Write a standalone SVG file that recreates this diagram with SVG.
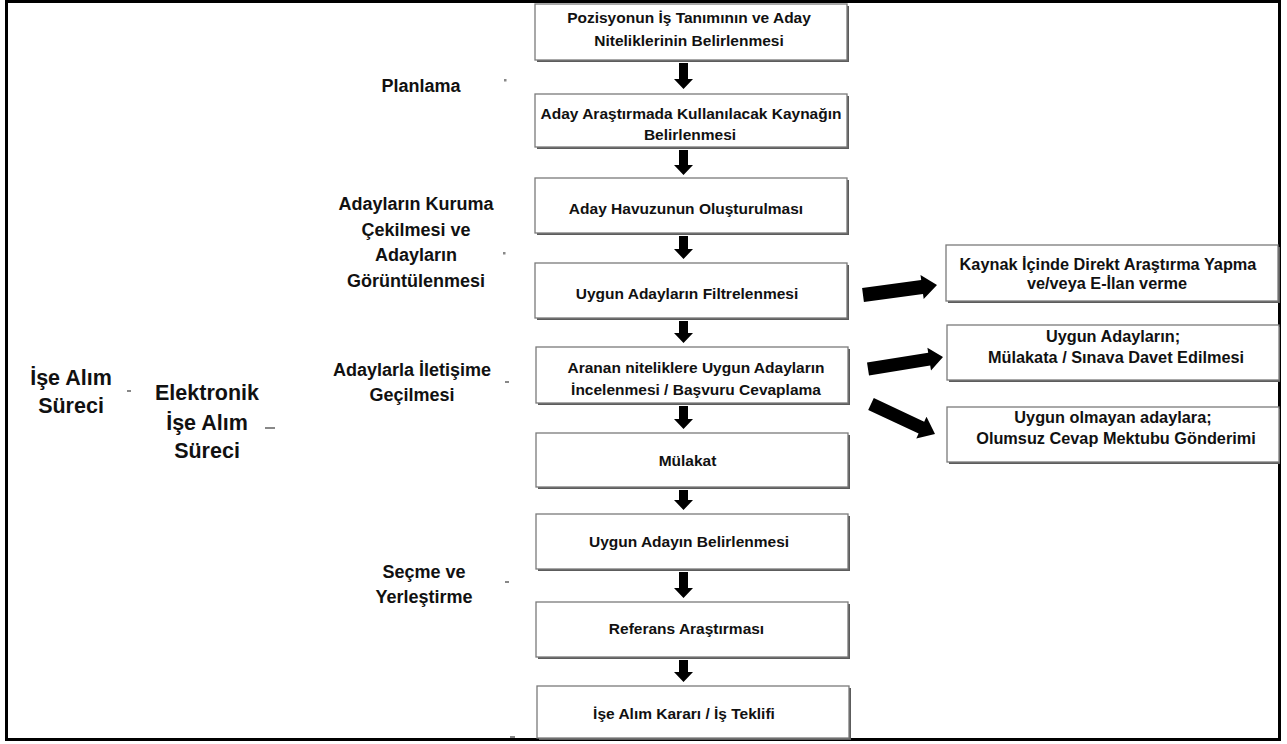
<svg xmlns="http://www.w3.org/2000/svg" width="1287" height="744" viewBox="0 0 1287 744">
<style>
.box{fill:#fff;stroke:#7a7a7a;stroke-width:1.3}
.sh{fill:#5c5c5c}
.t{font-family:"Liberation Sans",Arial,sans-serif;font-weight:bold;font-size:15.5px;text-anchor:middle;fill:#111}
.r{font-size:16.3px}
.l{font-size:18px}
.b{font-size:21.5px}
.arr{fill:#000}
.mk{fill:#888}
</style>
<rect width="1287" height="744" fill="#fff"/>
<rect x="6.5" y="1.5" width="1273" height="738" fill="none" stroke="#000" stroke-width="3"/>

<g id="n1"><rect class="sh" x="537" y="6" width="312" height="56"/><rect class="box" x="535" y="4" width="312" height="56"/>
<text class="t" x="689" y="23">Pozisyonun İş Tanımının ve Aday</text><text class="t" x="689" y="45.5">Niteliklerinin Belirlenmesi</text></g>
<g id="n2"><rect class="sh" x="537" y="96" width="312" height="53"/><rect class="box" x="535" y="94" width="312" height="53"/>
<text class="t" x="691" y="119">Aday Araştırmada Kullanılacak Kaynağın</text><text class="t" x="690" y="139.5">Belirlenmesi</text></g>
<g id="n3"><rect class="sh" x="537" y="180" width="312" height="55"/><rect class="box" x="535" y="178" width="312" height="55"/>
<text class="t" x="686" y="214">Aday Havuzunun Oluşturulması</text></g>
<g id="n4"><rect class="sh" x="537" y="265" width="312" height="55"/><rect class="box" x="535" y="263" width="312" height="55"/>
<text class="t" x="687" y="298.5">Uygun Adayların Filtrelenmesi</text></g>
<g id="n5"><rect class="sh" x="538" y="349" width="312" height="56"/><rect class="box" x="536" y="347" width="312" height="56"/>
<text class="t" x="696" y="373">Aranan niteliklere Uygun Adayların</text><text class="t" x="696" y="395">İncelenmesi / Başvuru Cevaplama</text></g>
<g id="n6"><rect class="sh" x="538" y="435" width="312" height="54"/><rect class="box" x="536" y="433" width="312" height="54"/>
<text class="t" x="687.5" y="466">Mülakat</text></g>
<g id="n7"><rect class="sh" x="538" y="516" width="312" height="55"/><rect class="box" x="536" y="514" width="312" height="55"/>
<text class="t" x="689" y="547">Uygun Adayın Belirlenmesi</text></g>
<g id="n8"><rect class="sh" x="538" y="604" width="312" height="55"/><rect class="box" x="536" y="602" width="312" height="55"/>
<text class="t" x="686.5" y="634">Referans Araştırması</text></g>
<g id="n9"><rect class="sh" x="539" y="688" width="312" height="52"/><rect class="box" x="537" y="686" width="312" height="52"/>
<text class="t" x="684" y="719">İşe Alım Kararı / İş Teklifi</text></g>

<g id="r1"><rect class="sh" x="948" y="247" width="332" height="56"/><rect class="box" x="946" y="245" width="332" height="56"/>
<text class="t r" x="1108" y="269.5">Kaynak İçinde Direkt Araştırma Yapma</text><text class="t r" x="1107" y="288.5">ve/veya E-İlan verme</text></g>
<g id="r2"><rect class="sh" x="949" y="327" width="331" height="55"/><rect class="box" x="947" y="325" width="332" height="55"/>
<text class="t r" x="1113" y="341.5">Uygun Adayların;</text><text class="t r" x="1116" y="362.5">Mülakata / Sınava Davet Edilmesi</text></g>
<g id="r3"><rect class="sh" x="949" y="409" width="331" height="55"/><rect class="box" x="947" y="407" width="332" height="55"/>
<text class="t r" x="1113" y="423">Uygun olmayan adaylara;</text><text class="t r" x="1116" y="444">Olumsuz Cevap Mektubu Gönderimi</text></g>

<g id="labels">
<text class="t l" x="421" y="92">Planlama</text>
<text class="t l" x="416" y="210">Adayların Kuruma</text>
<text class="t l" x="416" y="236">Çekilmesi ve</text>
<text class="t l" x="416" y="261">Adayların</text>
<text class="t l" x="416" y="286.5">Görüntülenmesi</text>
<text class="t l" x="412" y="376">Adaylarla İletişime</text>
<text class="t l" x="412" y="401">Geçilmesi</text>
<text class="t l" x="424" y="578">Seçme ve</text>
<text class="t l" x="424" y="603">Yerleştirme</text>
<text class="t b" x="71" y="384.5">İşe Alım</text>
<text class="t b" x="71" y="412.5">Süreci</text>
<text class="t b" x="207" y="399.5">Elektronik</text>
<text class="t b" x="207" y="429.5">İşe Alım</text>
<text class="t b" x="207" y="457.5">Süreci</text>
</g>

<g id="marks">
<rect class="mk" x="504" y="79" width="2.5" height="2.5"/>
<rect class="mk" x="503" y="252" width="2.5" height="2.5"/>
<rect class="mk" x="505" y="381" width="4" height="2"/>
<rect class="mk" x="127" y="390" width="4" height="2"/>
<rect class="mk" x="265" y="427" width="10" height="2"/>
<rect class="mk" x="505" y="581" width="4" height="2"/>
<rect class="mk" x="510" y="736" width="5" height="2"/>
</g>

<g id="connectors">
<polygon class="arr" points="679,63 688,63 688,79 693,79 683.5,89 674,79 679,79"/>
<polygon class="arr" points="679,150 688,150 688,165 693,165 683.5,175 674,165 679,165"/>
<polygon class="arr" points="679,236 688,236 688,249 693,249 683.5,259 674,249 679,249"/>
<polygon class="arr" points="679,321 688,321 688,333 693,333 683.5,343 674,333 679,333"/>
<polygon class="arr" points="679,406 688,406 688,419 693,419 683.5,429 674,419 679,419"/>
<polygon class="arr" points="679,490 688,490 688,500 693,500 683.5,510 674,500 679,500"/>
<polygon class="arr" points="679,572 688,572 688,588 693,588 683.5,598 674,588 679,588"/>
<polygon class="arr" points="679,660 688,660 688,672 693,672 683.5,682 674,672 679,672"/>
<polygon class="arr" points="862.1,288.1 921.2,280.1 920.5,275.1 937,285 923.7,298.9 923,293.9 863.9,301.9"/>
<polygon class="arr" points="867,362.6 928.2,352.8 927.4,347.8 943,357 931,370.6 930.2,365.6 869,375.4"/>
<polygon class="arr" points="873.8,398.1 924.2,421.7 926.5,416.7 935,434 916.3,438.5 918.6,433.5 868.2,409.9"/>
</g>
</svg>
